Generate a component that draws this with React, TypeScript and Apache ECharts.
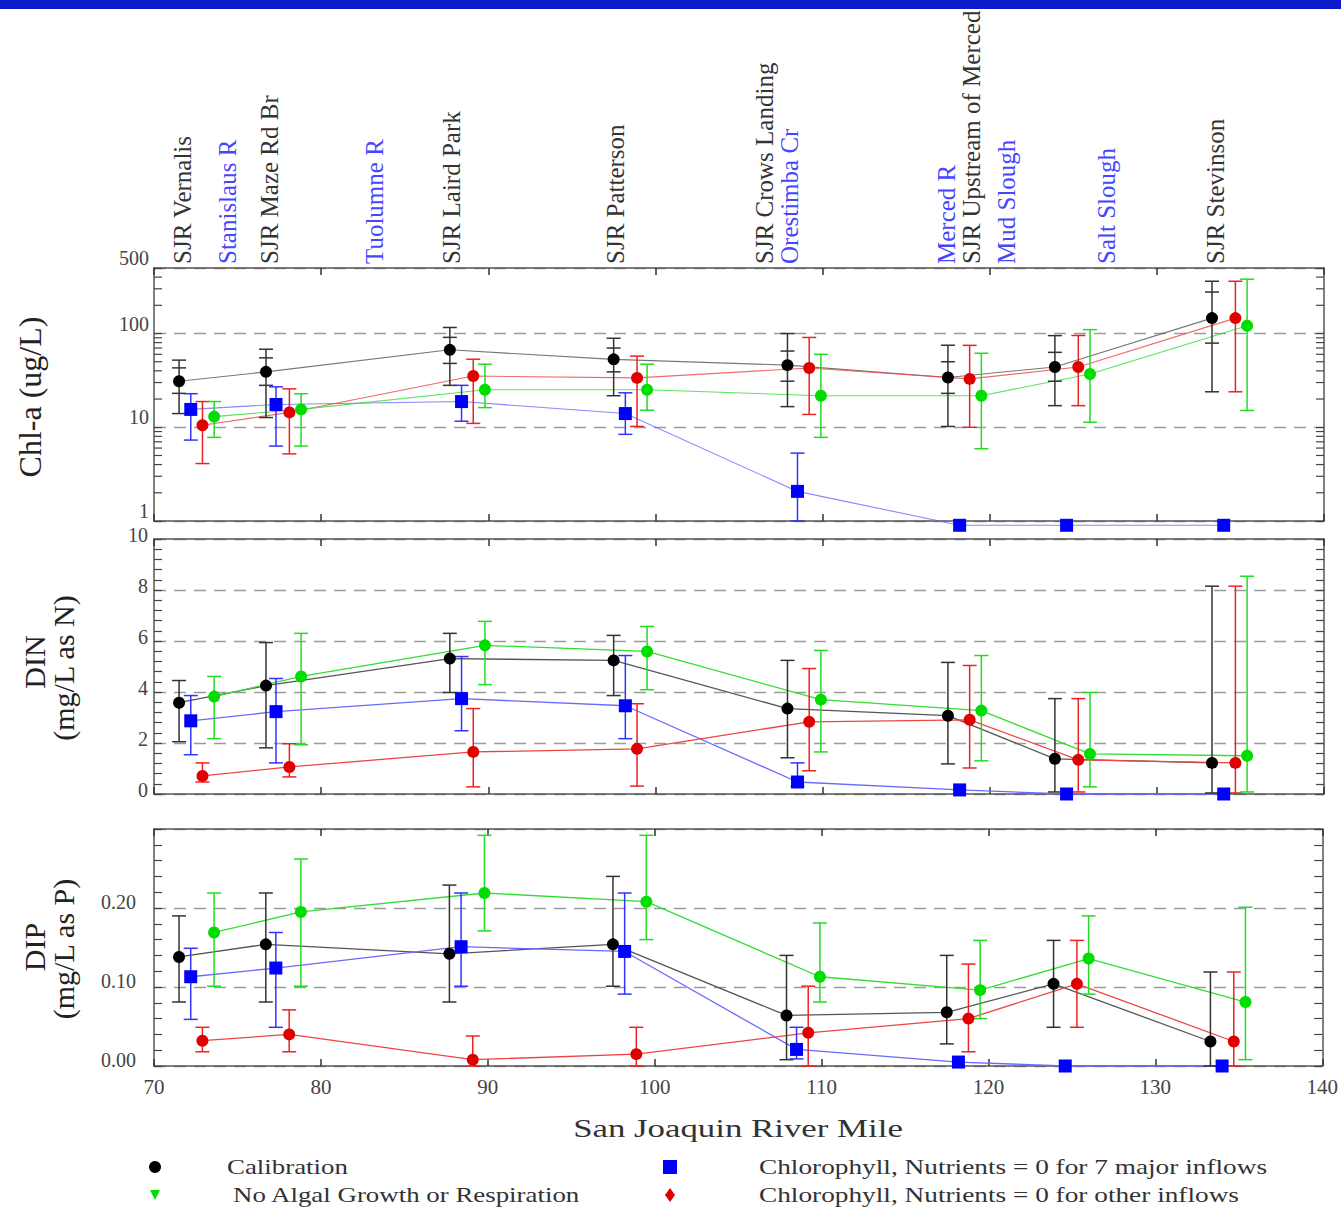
import React, { useEffect, useRef } from 'react';
import * as echarts from 'echarts';

// ---------- station positions (river mile) ----------
const calibMiles = [71.5, 76.7, 87.7, 97.5, 107.9, 117.5, 123.9, 133.3];
const major0Miles = [72.2, 77.3, 88.4, 98.2, 108.5, 118.2, 124.6, 134.0];
const other0Miles = [72.9, 78.1, 89.1, 98.9, 109.2, 118.8, 125.3, 134.7];
const noAlgaeMiles = [73.6, 78.8, 89.8, 99.5, 109.9, 119.5, 126.0, 135.4];

// ---------- Chl-a (ug/L) ----------
const calibChl = [31, 39, 67, 53, 46, 34, 44, 146];
const calibChlHi = [52, 68, 116, 89, 100, 75, 95, 361];
const calibChlLo = [14, 12.7, 28, 21.7, 16.6, 10.2, 17, 23.9];
const calibChlInnerHi = [43, 55, 91, 70, 65, 50, 63, 277];
const calibChlInnerLo = [23, 28, 48, 39, 31, 23, 31, 79];
const major0Chl = [15.5, 17.5, 18.8, 14.0, 2.07, 0.9, 0.9, 0.9];
const major0ChlHi = [22.8, 27, 28, 23.3, 5.3, null, null, null];
const major0ChlLo = [7.3, 6.3, 11.6, 8.4, 1.0, null, null, null];
const other0Chl = [10.5, 14.4, 35.2, 33.6, 42.8, 32.8, 43.9, 146];
const other0ChlHi = [18.8, 25.7, 53.2, 57.4, 90.8, 74.8, 95.3, 361];
const other0ChlLo = [4.1, 5.2, 11.0, 10.2, 13.7, 10.0, 17.0, 23.9];
const noAlgaeChl = [13.0, 15.5, 25.1, 25.1, 21.7, 21.7, 37, 121];
const noAlgaeChlHi = [18.8, 22.8, 47.1, 47.1, 60, 61.6, 110, 380];
const noAlgaeChlLo = [7.8, 6.3, 16.2, 15.2, 7.8, 5.9, 11.3, 15.1];

// ---------- DIN (mg/L as N) ----------
const calibDin = [3.58, 4.25, 5.31, 5.24, 3.35, 3.07, 1.38, 1.22];
const calibDinHi = [4.45, 5.94, 6.30, 6.22, 5.24, 5.16, 3.74, 8.15];
const calibDinLo = [2.05, 1.81, 3.98, 3.86, 1.42, 1.18, 0.08, 0.04];
const major0Din = [2.87, 3.23, 3.74, 3.46, 0.47, 0.16, 0.0, 0.0];
const major0DinHi = [3.86, 4.53, 5.39, 5.43, 1.22, null, null, null];
const major0DinLo = [1.54, 1.22, 2.48, 2.17, 0.3, null, null, null];
const other0Din = [0.71, 1.06, 1.65, 1.77, 2.83, 2.91, 1.34, 1.22];
const other0DinHi = [1.22, 1.97, 3.35, 3.54, 4.92, 5.04, 3.74, 8.15];
const other0DinLo = [0.47, 0.67, 0.28, 0.31, 0.91, 1.02, 0.08, 0.04];
const noAlgaeDin = [3.82, 4.61, 5.83, 5.59, 3.70, 3.27, 1.57, 1.50];
const noAlgaeDinHi = [4.61, 6.30, 6.77, 6.57, 5.63, 5.43, 3.98, 8.54];
const noAlgaeDinLo = [2.17, 1.93, 4.29, 4.09, 1.65, 1.30, 0.28, 0.08];

// ---------- DIP (mg/L as P) ----------
const calibDip = [0.138, 0.154, 0.142, 0.154, 0.064, 0.068, 0.104, 0.031];
const calibDipHi = [0.190, 0.219, 0.229, 0.240, 0.140, 0.140, 0.159, 0.119];
const calibDipLo = [0.081, 0.081, 0.081, 0.101, 0.008, 0.028, 0.049, 0.0];
const major0Dip = [0.113, 0.124, 0.151, 0.145, 0.021, 0.005, 0.0, 0.0];
const major0DipHi = [0.149, 0.169, 0.219, 0.219, 0.049, null, null, null];
const major0DipLo = [0.059, 0.049, 0.101, 0.091, 0.009, null, null, null];
const other0Dip = [0.032, 0.040, 0.008, 0.015, 0.042, 0.060, 0.104, 0.031];
const other0DipHi = [0.049, 0.071, 0.038, 0.049, 0.101, 0.129, 0.159, 0.119];
const other0DipLo = [0.018, 0.018, 0.0, 0.0, 0.0, 0.018, 0.049, 0.0];
const noAlgaeDip = [0.169, 0.195, 0.219, 0.208, 0.113, 0.096, 0.136, 0.081];
const noAlgaeDipHi = [0.219, 0.262, 0.292, 0.292, 0.181, 0.159, 0.190, 0.201];
const noAlgaeDipLo = [0.101, 0.101, 0.171, 0.160, 0.081, 0.060, 0.091, 0.008];

// ---------- station labels along the top ----------
const stationNames = [
  'SJR Vernalis', 'Stanislaus R', 'SJR Maze Rd Br', 'Tuolumne R', 'SJR Laird Park',
  'SJR Patterson', 'SJR Crows Landing', 'Orestimba Cr', 'Merced R', 'SJR Upstream of Merced',
  'Mud Slough', 'Salt Slough', 'SJR Stevinson',
];
const stationMiles = [71.7, 74.4, 76.9, 83.2, 87.8, 97.6, 106.5, 108.0, 117.4, 118.9, 121.0, 127.0, 133.5];
const stationIsInflow = [false, true, false, true, false, false, false, true, true, false, true, true, false];

// ---------- axis tick values ----------
const chlMinorTicks = [2, 3, 4, 5, 6, 7, 8, 9, 20, 30, 40, 50, 60, 70, 80, 90, 200, 300, 400];

const legendNames = [
  'Calibration',
  'No Algal Growth or Respiration',
  'Chlorophyll, Nutrients = 0 for 7 major inflows',
  'Chlorophyll, Nutrients = 0 for other inflows',
];

const FONT = 'Liberation Serif';
const W = 1341;
const H = 1207;

const COLORS = {
  calib: { mark: '#000000', line: '#555555', err: '#333333' },
  major0: { mark: '#0000ff', line: '#6a6aff', err: '#3333ff' },
  other0: { mark: '#e00000', line: '#ee4444', err: '#ee2222' },
  noAlgae: { mark: '#00dd00', line: '#33dd33', err: '#22dd22' },
};

function errorBarRender(color: string, inner: boolean) {
  return (params: any, api: any) => {
    const x = api.value(0);
    const lo = api.coord([x, api.value(1)]);
    const hi = api.coord([x, api.value(2)]);
    const hw = 7;
    const style = { stroke: color, lineWidth: 1.5, fill: null };
    const children: any[] = [
      { type: 'line', shape: { x1: lo[0], y1: lo[1], x2: hi[0], y2: hi[1] }, style },
      { type: 'line', shape: { x1: lo[0] - hw, y1: lo[1], x2: lo[0] + hw, y2: lo[1] }, style },
      { type: 'line', shape: { x1: hi[0] - hw, y1: hi[1], x2: hi[0] + hw, y2: hi[1] }, style },
    ];
    if (inner) {
      const ilo = api.coord([x, api.value(3)]);
      const ihi = api.coord([x, api.value(4)]);
      children.push({ type: 'line', shape: { x1: ilo[0] - hw, y1: ilo[1], x2: ilo[0] + hw, y2: ilo[1] }, style });
      children.push({ type: 'line', shape: { x1: ihi[0] - hw, y1: ihi[1], x2: ihi[0] + hw, y2: ihi[1] }, style });
    }
    return { type: 'group', children };
  };
}

function buildOption() {
  const grids = [
    { left: 154, right: 17, top: 268, height: 253 },
    { left: 154, right: 17, top: 539, height: 255 },
    { left: 154, right: 17, top: 829, height: 237 },
  ];
  const axisLineStyle = { color: '#555', width: 1.5 };
  const xAxes: any[] = [];
  const yAxes: any[] = [];
  grids.forEach((_, g) => {
    ['bottom', 'top'].forEach((pos) => {
      xAxes.push({
        type: 'value', gridIndex: g, position: pos, min: 70, max: 140, interval: 10,
        axisLine: { show: true, onZero: false, lineStyle: axisLineStyle },
        axisTick: { show: true, inside: true, length: 7, lineStyle: { color: '#333', width: 1.5 } },
        splitLine: { show: false },
        axisLabel: {
          show: g === 2 && pos === 'bottom', fontFamily: FONT, fontSize: 21, color: '#444', margin: 10,
        },
      });
    });
  });
  const yConf = [
    { type: 'log', min: 1, max: 500, fmt: (v: number) => String(Math.round(v)), margin: 5, minor: false, lh: 20 },
    { type: 'value', min: 0, max: 10, interval: 2, fmt: (v: number) => String(Math.round(v)), margin: 6, minor: true, lh: 8 },
    { type: 'value', min: 0, max: 0.3, interval: 0.1, fmt: (v: number) => (v > 0.25 ? '' : v.toFixed(2)), margin: 18, minor: true, lh: 12 },
  ];
  yConf.forEach((c, g) => {
    ['left', 'right'].forEach((pos) => {
      const ax: any = {
        type: c.type, gridIndex: g, position: pos, min: c.min, max: c.max,
        axisLine: { show: true, onZero: false, lineStyle: axisLineStyle },
        axisTick: { show: true, inside: true, length: 8, lineStyle: { color: '#444', width: 1.2 } },
        minorTick: { show: c.minor, splitNumber: 5, length: 8, lineStyle: { color: '#444', width: 1.2 } },
        splitLine: pos === 'left'
          ? { show: true, lineStyle: { color: '#9a9a9a', width: 1.3, type: [12, 8] } }
          : { show: false },
        axisLabel: {
          show: pos === 'left', formatter: c.fmt, fontFamily: FONT, fontSize: 20, color: '#444',
          margin: c.margin, verticalAlign: 'bottom', lineHeight: c.lh,
        },
      };
      if (c.type === 'log') ax.logBase = 10; else ax.interval = (c as any).interval;
      yAxes.push(ax);
    });
  });

  const series: any[] = [];

  // minor ticks for the log axis (left and right edges)
  series.push({
    type: 'custom', xAxisIndex: 0, yAxisIndex: 0, z: 5, silent: true,
    data: chlMinorTicks.map((v) => [70, v]),
    encode: { x: 0, y: 1 },
    renderItem: (params: any, api: any) => {
      const p = api.coord([70, api.value(1)]);
      const cs = params.coordSys;
      const style = { stroke: '#444', lineWidth: 1.2 };
      return {
        type: 'group',
        children: [
          { type: 'line', shape: { x1: cs.x, y1: p[1], x2: cs.x + 8, y2: p[1] }, style },
          { type: 'line', shape: { x1: cs.x + cs.width - 8, y1: p[1], x2: cs.x + cs.width, y2: p[1] }, style },
        ],
      };
    },
  });

  // station labels above the top panel
  series.push({
    type: 'custom', xAxisIndex: 0, yAxisIndex: 0, z: 5, silent: true, clip: false,
    data: stationMiles.map((m, i) => [m, 10, i]),
    encode: { x: 0, y: 1 },
    renderItem: (params: any, api: any) => {
      const i = api.value(2);
      const p = api.coord([api.value(0), 10]);
      const cs = params.coordSys;
      return {
        type: 'text',
        x: p[0], y: cs.y - 4,
        rotation: Math.PI / 2,
        style: {
          text: stationNames[i],
          fill: stationIsInflow[i] ? '#4646ff' : '#333333',
          fontFamily: FONT, fontSize: 25,
          align: 'left', verticalAlign: 'middle',
        },
      };
    },
  });

  const panels = [
    {
      calib: [calibChl, calibChlLo, calibChlHi], major0: [major0Chl, major0ChlLo, major0ChlHi],
      other0: [other0Chl, other0ChlLo, other0ChlHi], noAlgae: [noAlgaeChl, noAlgaeChlLo, noAlgaeChlHi],
    },
    {
      calib: [calibDin, calibDinLo, calibDinHi], major0: [major0Din, major0DinLo, major0DinHi],
      other0: [other0Din, other0DinLo, other0DinHi], noAlgae: [noAlgaeDin, noAlgaeDinLo, noAlgaeDinHi],
    },
    {
      calib: [calibDip, calibDipLo, calibDipHi], major0: [major0Dip, major0DipLo, major0DipHi],
      other0: [other0Dip, other0DipLo, other0DipHi], noAlgae: [noAlgaeDip, noAlgaeDipLo, noAlgaeDipHi],
    },
  ];
  const scen = [
    { key: 'calib', miles: calibMiles, symbol: 'circle', size: 12, name: legendNames[0] },
    { key: 'major0', miles: major0Miles, symbol: 'rect', size: 13, name: legendNames[2] },
    { key: 'other0', miles: other0Miles, symbol: 'circle', size: 12, name: legendNames[3] },
    { key: 'noAlgae', miles: noAlgaeMiles, symbol: 'circle', size: 12, name: legendNames[1] },
  ];

  panels.forEach((panel: any, g) => {
    const xi = g * 2;
    const yi = g * 2;
    scen.forEach((s) => {
      const [vals, lo, hi] = panel[s.key];
      const col = (COLORS as any)[s.key];
      series.push({
        type: 'line', name: s.name, xAxisIndex: xi, yAxisIndex: yi, z: 2, clip: false,
        symbol: 'none', silent: true,
        lineStyle: { color: col.line, width: g === 0 ? 1.1 : 1.3, opacity: g === 0 ? 0.8 : 1 },
        data: s.miles.map((m, i) => [m, vals[i]]),
      });
      const errData: any[] = [];
      s.miles.forEach((m, i) => {
        if (hi[i] == null || lo[i] == null) return;
        if (g === 0 && s.key === 'calib') errData.push([m, lo[i], hi[i], calibChlInnerLo[i], calibChlInnerHi[i]]);
        else errData.push([m, lo[i], hi[i]]);
      });
      series.push({
        type: 'custom', name: s.name, xAxisIndex: xi, yAxisIndex: yi, z: 3, clip: false, silent: true,
        data: errData, encode: { x: 0, y: [1, 2] },
        renderItem: errorBarRender(col.err, g === 0 && s.key === 'calib'),
      });
      series.push({
        type: 'scatter', name: s.name, xAxisIndex: xi, yAxisIndex: yi, z: 4, clip: false, silent: true,
        symbol: s.symbol, symbolSize: s.size,
        itemStyle: { color: col.mark, opacity: 1 },
        data: s.miles.map((m, i) => [m, vals[i]]),
      });
    });
  });

  const titleStyle = { fontFamily: FONT, fill: '#222' };
  const graphic: any[] = [
    { type: 'rect', z: 100, shape: { x: 0, y: 0, width: W, height: 9 }, style: { fill: '#0b1bcc' } },
    {
      type: 'text', x: 30, y: 397, rotation: Math.PI / 2,
      style: { ...titleStyle, text: 'Chl-a (ug/L)', fontSize: 32, align: 'center', verticalAlign: 'middle' },
    },
    {
      type: 'text', x: 34, y: 662, rotation: Math.PI / 2,
      style: { ...titleStyle, text: 'DIN', fontSize: 30, align: 'center', verticalAlign: 'middle' },
    },
    {
      type: 'text', x: 63, y: 668, rotation: Math.PI / 2,
      style: { ...titleStyle, text: '(mg/L as N)', fontSize: 30, align: 'center', verticalAlign: 'middle' },
    },
    {
      type: 'text', x: 34, y: 947, rotation: Math.PI / 2,
      style: { ...titleStyle, text: 'DIP', fontSize: 30, align: 'center', verticalAlign: 'middle' },
    },
    {
      type: 'text', x: 63, y: 949, rotation: Math.PI / 2,
      style: { ...titleStyle, text: '(mg/L as P)', fontSize: 30, align: 'center', verticalAlign: 'middle' },
    },
    {
      type: 'text', x: 738, y: 1129, scaleX: 1.34,
      style: { ...titleStyle, fill: '#333', text: 'San Joaquin River Mile', fontSize: 26, align: 'center', verticalAlign: 'middle' },
    },
    // legend
    { type: 'circle', shape: { cx: 155, cy: 1167, r: 6 }, style: { fill: '#000' } },
    { type: 'polygon', shape: { points: [[150, 1190], [160, 1190], [155, 1200]] }, style: { fill: '#00dd00' } },
    { type: 'rect', shape: { x: 663, y: 1160, width: 14, height: 14 }, style: { fill: '#0000ff' } },
    { type: 'polygon', shape: { points: [[670, 1188], [675, 1195], [670, 1202], [665, 1195]] }, style: { fill: '#e00000' } },
    {
      type: 'text', x: 227, y: 1167, scaleX: 1.28,
      style: { ...titleStyle, fill: '#333', text: legendNames[0], fontSize: 21, align: 'left', verticalAlign: 'middle' },
    },
    {
      type: 'text', x: 233, y: 1195, scaleX: 1.28,
      style: { ...titleStyle, fill: '#333', text: legendNames[1], fontSize: 21, align: 'left', verticalAlign: 'middle' },
    },
    {
      type: 'text', x: 759, y: 1167, scaleX: 1.3,
      style: { ...titleStyle, fill: '#333', text: legendNames[2], fontSize: 21, align: 'left', verticalAlign: 'middle' },
    },
    {
      type: 'text', x: 759, y: 1195, scaleX: 1.3,
      style: { ...titleStyle, fill: '#333', text: legendNames[3], fontSize: 21, align: 'left', verticalAlign: 'middle' },
    },
  ];

  return {
    animation: false,
    backgroundColor: '#ffffff',
    grid: grids,
    xAxis: xAxes,
    yAxis: yAxes,
    series,
    graphic,
  };
}

export default function App() {
  const ref = useRef<HTMLDivElement>(null);
  useEffect(() => {
    if (!ref.current) return;
    const chart = echarts.init(ref.current, null, { renderer: 'svg' });
    chart.setOption(buildOption() as any);
    return () => chart.dispose();
  }, []);
  return (
    <div
      ref={ref}
      style={{ position: 'fixed', left: 0, top: 0, width: W, height: H, background: '#fff' }}
    />
  );
}
